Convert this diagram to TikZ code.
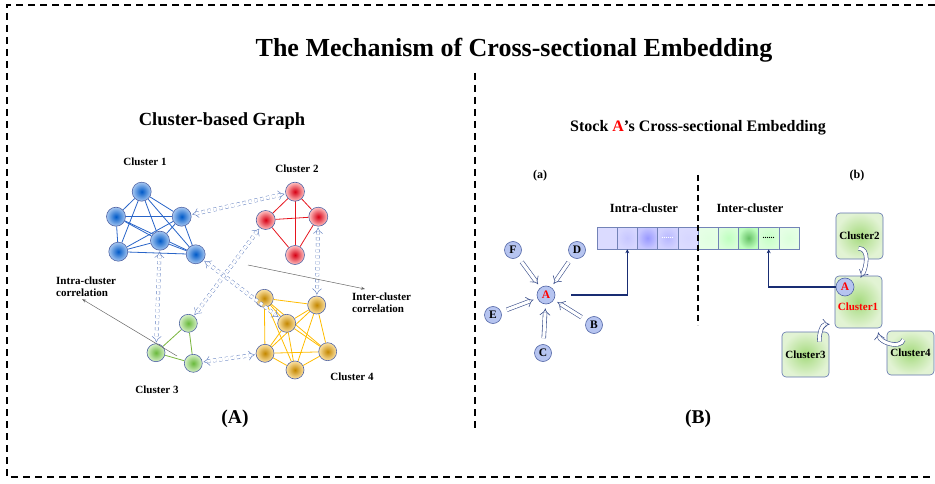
\documentclass[tikz,border=0pt]{standalone}
\usepackage{fontspec}
\setmainfont{Liberation Serif}
\usetikzlibrary{arrows.meta,positioning,backgrounds,calc}

\definecolor{coreblue}{RGB}{0,90,200}
\definecolor{paleblue}{RGB}{165,198,240}
\definecolor{corered}{RGB}{215,0,20}
\definecolor{palered}{RGB}{255,195,195}
\definecolor{coregreen}{RGB}{105,185,60}
\definecolor{palegreen}{RGB}{215,240,200}
\definecolor{coreorange}{RGB}{195,135,0}
\definecolor{paleorange}{RGB}{252,226,165}
\definecolor{rim}{RGB}{80,100,165}
\definecolor{edgeblue}{RGB}{40,100,200}
\definecolor{edgered}{RGB}{230,20,30}
\definecolor{edgegreen}{RGB}{120,180,60}
\definecolor{edgeorange}{RGB}{255,188,0}
\definecolor{linkblue}{RGB}{95,125,190}
\definecolor{letterfill}{RGB}{182,196,240}
\definecolor{hollowblue}{RGB}{60,80,140}
\definecolor{navy}{RGB}{25,45,115}
\definecolor{boxgreen}{RGB}{165,218,125}
\definecolor{boxpale}{RGB}{226,243,212}

\tikzset{
  stock/.style={circle, inner sep=0pt, minimum size=#1, draw=rim, line width=0.6pt},
  bnode/.style={stock=19pt, inner color=coreblue, outer color=paleblue},
  rnode/.style={stock=19pt, inner color=corered, outer color=palered},
  gnode/.style={stock=18pt, inner color=coregreen, outer color=palegreen},
  onode/.style={stock=18pt, inner color=coreorange, outer color=paleorange},
  letter/.style={stock=17pt, fill=letterfill, font=\fontsize{11.5}{12}\selectfont\bfseries},
  link/.style={draw=linkblue, line width=0.45pt, double=white, double distance=3pt,
    dashed, {Implies}-{Implies}, shorten <=1pt, shorten >=1pt},
  hollow/.style={draw=hollowblue, line width=0.6pt, double=white, double distance=3.2pt, -{Implies}},
  corr/.style={draw=black!60, line width=0.5pt, -{Stealth[length=4pt,width=3pt]}},
  feed/.style={draw=navy, line width=1.4pt, -{Stealth[length=4pt,width=4pt]}},
  cell/.style={draw=rim!80, line width=0.5pt, minimum width=20.2pt, minimum height=22pt, inner sep=0pt},
  cbox/.style={draw=rim!90, line width=0.6pt, rounded corners=4pt, inner color=boxgreen, outer color=boxpale,
    font=\fontsize{11}{12}\selectfont\bfseries},
  lbl/.style={font=\fontsize{#1}{#1}\selectfont\bfseries},
  frame/.style={line width=1.1pt, dash pattern=on 7pt off 5pt}
}

\begin{document}
\begin{tikzpicture}[x=1pt,y=1pt]
\useasboundingbox (0,0) rectangle (935,-484);
% outer frame and middle divider
\draw[frame] (935,-5) -- (7,-5) -- (7,-477) -- (935,-477);
\draw[frame] (475,-73) -- (475,-432);
% titles
\node[lbl=26] (title) at (514,-50) {The Mechanism of Cross-sectional Embedding};
\node[lbl=18.5] (graphtitle) at (222,-121) {Cluster-based Graph};
\node[lbl=16] (embtitle) at (698,-128) {Stock {\color{red}A}'s Cross-sectional Embedding};
\node[lbl=19.5] (capA) at (235,-419) {(A)};
\node[lbl=19.5] (capB) at (698,-419) {(B)};

% ---- (A) cluster-based graph ----
% Cluster 1
\node[bnode] (b1) at (141.7,-191.7) {};
\node[bnode] (b2) at (116,-216.7) {};
\node[bnode] (b3) at (181.7,-216.7) {};
\node[bnode] (b4) at (160,-240.7) {};
\node[bnode] (b5) at (118.3,-251.7) {};
\node[bnode] (b6) at (195.7,-254.3) {};
% Cluster 2
\node[rnode] (r1) at (295,-191.7) {};
\node[rnode] (r2) at (265.7,-220) {};
\node[rnode] (r3) at (318.3,-216.7) {};
\node[rnode] (r4) at (295,-255) {};
% Cluster 3
\node[gnode] (g1) at (188.3,-323.3) {};
\node[gnode] (g2) at (156,-352.7) {};
\node[gnode] (g3) at (193.3,-363.3) {};
% Cluster 4
\node[onode] (o1) at (264.3,-298.3) {};
\node[onode] (o2) at (316.7,-305) {};
\node[onode] (o3) at (286.7,-323.3) {};
\node[onode] (o4) at (265,-353.3) {};
\node[onode] (o5) at (327.7,-351.7) {};
\node[onode] (o6) at (295,-370) {};
% intra-cluster edges behind the nodes
\begin{scope}[on background layer]
\foreach \i in {1,...,5}{
  \pgfmathtruncatemacro\k{\i+1}
  \foreach \j in {\k,...,6}{
    \draw[edgeblue, line width=0.8pt] (b\i) -- (b\j);
    \draw[edgeorange, line width=0.8pt] (o\i) -- (o\j);
  }
}
\foreach \a/\b in {1/2,1/3,1/4,2/3,2/4,3/4}
  \draw[edgered, line width=0.8pt] (r\a) -- (r\b);
\foreach \a/\b in {1/2,1/3,2/3}
  \draw[edgegreen, line width=0.8pt] (g\a) -- (g\b);
\end{scope}
% inter-cluster links
\draw[link] (b3) -- (r1);
\draw[link] (b4) -- (g2);
\draw[link] (b6) -- (o3);
\draw[link] (r2) -- (g1);
\draw[link] (r3) -- (o2);
\draw[link] (g3) -- (o4);
% cluster names
\node[lbl=11] (n1) at (145,-162) {Cluster 1};
\node[lbl=11] (n2) at (297,-169) {Cluster 2};
\node[lbl=11] (n3) at (157,-390) {Cluster 3};
\node[lbl=11] (n4) at (352,-377) {Cluster 4};
% correlation callouts
\node[lbl=11, align=left, anchor=north west, inner sep=0pt] (intralbl) at (56,-277) {Intra-cluster\\[1pt]correlation};
\node[lbl=11, align=left, anchor=north west, inner sep=0pt] (interlbl) at (352,-293) {Inter-cluster\\[1pt]correlation};
\coordinate (intraS) at (177,-356);
\coordinate (interS) at (248,-265);
\draw[corr] (intraS) -- ([xshift=-4pt,yshift=-2pt]intralbl.south);
\draw[corr] (interS) -- ([xshift=13pt,yshift=4pt]interlbl.north west);

% ---- (B) stock A's embedding ----
\node[lbl=12] (suba) at (540,-176) {(a)};
\node[lbl=12] (subb) at (857,-176) {(b)};
% (a) neighbours feeding A
\node[letter, minimum size=18pt] (A) at (546,-295) {\color{red}A};
\node[letter] (F) at (513,-250) {F};
\node[letter] (D) at (577,-250) {D};
\node[letter] (E) at (493,-315) {E};
\node[letter] (B) at (594,-325) {B};
\node[letter] (C) at (543,-353) {C};
\foreach \s in {F,D,E,B,C}
  \draw[hollow, shorten <=6pt, shorten >=4pt] (\s) -- (A);
% embedding vector
\foreach \i/\ci/\co in {1/blue!14/blue!14, 2/blue!22/blue!16, 3/blue!40/blue!22, 4/blue!28/blue!18, 5/blue!16/blue!14}
  \node[cell, inner color=\ci, outer color=\co] (e\i) at ({597+20.2*(\i-0.5)},-238) {};
\foreach \i/\ci/\co in {6/green!12/green!10, 7/green!25/green!15, 8/green!60!black!60!white/green!25, 9/green!22/green!15, 10/green!14/green!10}
  \node[cell, inner color=\ci, outer color=\co] (e\i) at ({597+20.2*(\i-0.5)},-238) {};
\node[font=\fontsize{8}{8}\selectfont\bfseries, text=white] (dots1) at (e4) {......};
\node[font=\fontsize{8}{8}\selectfont\bfseries] (dots2) at (e9) {......};
\draw[line width=1.3pt, dash pattern=on 6pt off 4pt] (698,-175) -- (698,-325);
\node[lbl=12.5] (intrabar) at (644,-208) {Intra-cluster};
\node[lbl=12.5] (interbar) at (750,-208) {Inter-cluster};
% (b) clusters feeding cluster 1
\node[cbox, minimum width=45pt, minimum height=46pt] (c2) at (859.5,-236) {Cluster2};
\node[cbox, minimum width=47pt, minimum height=52pt] (c1) at (858.5,-302) {};
\node[cbox, minimum width=45pt, minimum height=45pt] (c3) at (805.5,-354.5) {Cluster3};
\node[cbox, minimum width=45pt, minimum height=44pt] (c4) at (910.5,-353) {Cluster4};
\node[font=\fontsize{11}{12}\selectfont\bfseries, text=red] (c1name) at (858,-307) {Cluster1};
\node[letter, minimum size=18pt] (Ab) at (845,-287) {\color{red}A};
\draw[hollow] ([xshift=-1pt,yshift=11pt]c2.south) to[out=0,in=60] ([xshift=2pt,yshift=-2pt]c1.north);
\draw[hollow] ([xshift=14pt,yshift=-10pt]c3.north) to[out=95,in=180] ([xshift=-5pt,yshift=4pt]c1.south west);
\draw[hollow] ([xshift=-7pt,yshift=-9pt]c4.north) to[out=-110,in=-80] ([xshift=-4pt,yshift=-4pt]c1.south east);
% feeding arrows into the vector
\draw[feed, shorten <=16pt] (A.east) -| (e2.south);
\draw[feed] (Ab.west) -| (e9.south);
\end{tikzpicture}
\end{document}
